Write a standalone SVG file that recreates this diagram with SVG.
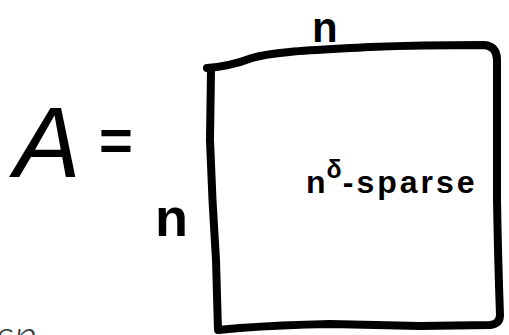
<svg xmlns="http://www.w3.org/2000/svg" width="509" height="335" viewBox="0 0 509 335">
  <style>
    .ink { fill: #000; font-family: "Liberation Sans", "DejaVu Sans", sans-serif; }
    .box { fill: none; stroke: #000; stroke-width: 8; stroke-linecap: round; stroke-linejoin: round; }
    .faint { fill: #2f3d43; font-family: "Lato", "Open Sans", sans-serif; font-weight: 300; font-style: italic; }
  </style>
  <rect width="509" height="335" fill="#fff"/>
  <g id="equation">
    <text class="ink" x="14" y="177" font-size="100" font-style="italic">A</text>
    <text class="ink" x="99" y="160" font-size="58" font-weight="bold">=</text>
  </g>
  <g id="matrix">
    <path class="box" d="M207,68 C222,67 236,64 252,58 C275,51 320,50 370,47 C420,45 460,45 484,45 Q497,46 497,60 L497,200 Q498,260 500,315 Q500,324 490,325 L420,326 Q370,325 330,324 Q280,325 240,328 L218,330 L216,260 Q212,200 210,140 L211,70"/>
    <text class="ink" x="312" y="42" font-size="42" font-weight="bold">n</text>
    <text class="ink" x="155" y="236" font-size="54" font-weight="bold">n</text>
    <text class="ink" x="306" y="193" font-size="32" font-weight="bold" letter-spacing="1">n<tspan dy="-15" font-size="25">δ</tspan><tspan dy="15" letter-spacing="3">-sparse</tspan></text>
  </g>
  <g id="cut-text">
    <text class="faint" x="-4" y="352" font-size="46">sn</text>
  </g>
</svg>
